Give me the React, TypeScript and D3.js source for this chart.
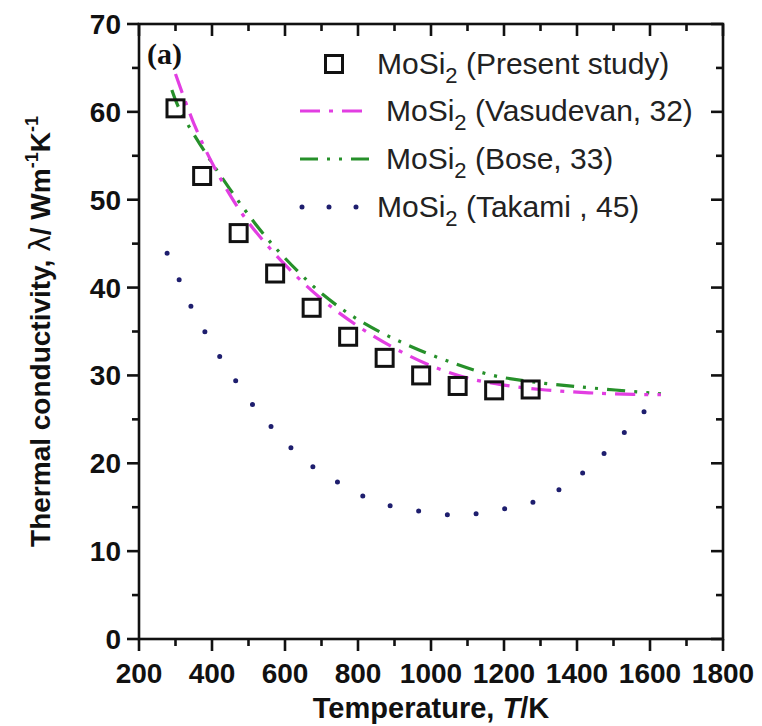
import React from "react";
import * as d3 from "d3";

// Thermal conductivity of MoSi2 versus temperature
const presentT = [300, 373, 473, 573, 673, 773, 873, 973, 1073, 1173, 1273];
const presentK = [60.4, 52.7, 46.2, 41.6, 37.7, 34.4, 32.0, 30.0, 28.8, 28.3, 28.4];

const vasudevanT = [300, 350, 400, 450, 500, 600, 700, 800, 900, 1000, 1100, 1200, 1300, 1400, 1500, 1630];
const vasudevanK = [64.3, 58.7, 54.2, 50.5, 47.4, 42.6, 38.7, 35.6, 33.1, 31.1, 29.7, 28.9, 28.4, 28.1, 27.9, 27.8];

const boseT = [290, 312, 400, 518, 592, 704, 814, 934, 1061, 1170, 1271, 1408, 1630];
const boseK = [62.5, 60.2, 54.2, 47.3, 43.7, 39.2, 36.0, 33.5, 31.4, 30.0, 29.3, 28.7, 27.9];

const takamiT = [277, 310, 342, 383, 422, 522, 586, 654, 727, 796, 869, 942, 1010, 1081, 1151, 1224, 1296, 1366, 1436, 1504, 1571, 1630];
const takamiK = [43.9, 40.9, 37.9, 34.8, 32.1, 26.1, 23.1, 20.3, 18.3, 16.6, 15.4, 14.7, 14.4, 14.0, 14.5, 15.0, 15.8, 17.4, 19.6, 22.4, 25.3, 28.0];

const xMajorTicks = [200, 400, 600, 800, 1000, 1200, 1400, 1600, 1800];
const yMajorTicks = [0, 10, 20, 30, 40, 50, 60, 70];

const legendLabels = ["(Present study)", "(Vasudevan, 32)", "(Bose, 33)", "(Takami , 45)"];

const W = 762;
const H = 726;
const left = 139;
const right = 723;
const top = 24;
const bottom = 639;

const MAGENTA = "#e23ee2";
const GREEN = "#26902a";
const NAVY = "#1e1e6e";
const FONT = "'Liberation Sans', Arial, sans-serif";

export default function App() {
  const x = d3.scaleLinear().domain([200, 1800]).range([left, right]);
  const y = d3.scaleLinear().domain([0, 70]).range([bottom, top]);

  const pts = (ts: number[], vs: number[]) => ts.map((t, i) => [t, vs[i]] as [number, number]);
  const line = d3
    .line<[number, number]>()
    .x((d) => x(d[0]))
    .y((d) => y(d[1]))
    .curve(d3.curveCatmullRom.alpha(0.5));

  const xMinor = d3.range(200, 1801, 100).filter((v) => !xMajorTicks.includes(v));
  const yMinor = d3.range(0, 71, 5).filter((v) => !yMajorTicks.includes(v));

  const MAJ = 12;
  const MIN = 7;
  const axisW = 2.6;

  const legendX = 300;
  const legendRows = [64, 111, 159, 207];
  const legendTextX = [377, 386, 386, 377];

  const moSi = (i: number) => (
    <text
      key={"lt" + i}
      x={legendTextX[i]}
      y={legendRows[i] + 10}
      fontFamily={FONT}
      fontSize={30}
      fill="#222"
    >
      MoSi
      <tspan fontSize={22} dy={9}>2</tspan>
      <tspan dy={-9}>{" " + legendLabels[i]}</tspan>
    </text>
  );

  return (
    <svg
      width={W}
      height={H}
      style={{ position: "absolute", left: 0, top: 0, background: "#fff" }}
    >
      <rect x={0} y={0} width={W} height={H} fill="#fff" />

      {/* data curves */}
      <path
        d={line(pts(takamiT, takamiK)) || ""}
        fill="none"
        stroke={NAVY}
        strokeWidth={5}
        strokeLinecap="round"
        strokeDasharray="0 29"
      />
      <path
        d={line(pts(boseT, boseK)) || ""}
        fill="none"
        stroke={GREEN}
        strokeWidth={3.2}
        strokeDasharray="18 9 3 9 3 9"
      />
      <path
        d={line(pts(vasudevanT, vasudevanK)) || ""}
        fill="none"
        stroke={MAGENTA}
        strokeWidth={3.2}
        strokeDasharray="20 9 4 9"
      />

      {/* measured points */}
      {presentT.map((t, i) => (
        <rect
          key={"sq" + i}
          x={x(t) - 8.5}
          y={y(presentK[i]) - 8.5}
          width={17}
          height={17}
          fill="none"
          stroke="#111"
          strokeWidth={3}
        />
      ))}

      {/* frame */}
      <rect
        x={left}
        y={top}
        width={right - left}
        height={bottom - top}
        fill="none"
        stroke="#111"
        strokeWidth={axisW}
      />

      {/* x ticks: outward at bottom, inward at top */}
      {xMajorTicks.map((v) => (
        <g key={"xM" + v}>
          <line x1={x(v)} x2={x(v)} y1={bottom} y2={bottom + MAJ} stroke="#111" strokeWidth={axisW} />
          <line x1={x(v)} x2={x(v)} y1={top} y2={top + MAJ} stroke="#111" strokeWidth={axisW} />
          <text
            x={x(v)}
            y={bottom + 44}
            textAnchor="middle"
            fontFamily={FONT}
            fontWeight="bold"
            fontSize={28}
            fill="#111"
          >
            {v}
          </text>
        </g>
      ))}
      {xMinor.map((v) => (
        <g key={"xm" + v}>
          <line x1={x(v)} x2={x(v)} y1={bottom} y2={bottom + MIN} stroke="#111" strokeWidth={axisW} />
          <line x1={x(v)} x2={x(v)} y1={top} y2={top + MIN} stroke="#111" strokeWidth={axisW} />
        </g>
      ))}

      {/* y ticks: outward at left, inward at right */}
      {yMajorTicks.map((v) => (
        <g key={"yM" + v}>
          <line x1={left - MAJ} x2={left} y1={y(v)} y2={y(v)} stroke="#111" strokeWidth={axisW} />
          <line x1={right - MAJ} x2={right} y1={y(v)} y2={y(v)} stroke="#111" strokeWidth={axisW} />
          <text
            x={left - 18}
            y={y(v) + 10}
            textAnchor="end"
            fontFamily={FONT}
            fontWeight="bold"
            fontSize={28}
            fill="#111"
          >
            {v}
          </text>
        </g>
      ))}
      {yMinor.map((v) => (
        <g key={"ym" + v}>
          <line x1={left - MIN} x2={left} y1={y(v)} y2={y(v)} stroke="#111" strokeWidth={axisW} />
          <line x1={right - MIN} x2={right} y1={y(v)} y2={y(v)} stroke="#111" strokeWidth={axisW} />
        </g>
      ))}

      {/* axis titles */}
      <text
        x={(left + right) / 2}
        y={718}
        textAnchor="middle"
        fontFamily={FONT}
        fontWeight="bold"
        fontSize={29}
        fill="#111"
      >
        Temperature,{" "}
        <tspan fontStyle="italic">T</tspan>/K
      </text>
      <text
        transform={`translate(50, ${(top + bottom) / 2}) rotate(-90)`}
        textAnchor="middle"
        fontFamily={FONT}
        fontWeight="bold"
        fontSize={28}
        fill="#111"
      >
        Thermal conductivity,{" "}
        <tspan fontWeight="normal" fontFamily="'DejaVu Sans', sans-serif">λ</tspan>/ Wm
        <tspan fontSize={18} dy={-12}>-1</tspan>
        <tspan dy={12}>K</tspan>
        <tspan fontSize={18} dy={-12}>-1</tspan>
      </text>

      {/* panel label */}
      <text
        x={147}
        y={64}
        fontFamily="'Liberation Serif', 'Times New Roman', serif"
        fontWeight="bold"
        fontSize={30}
        fill="#111"
      >
        (a)
      </text>

      {/* legend */}
      <rect
        x={legendX + 25.5}
        y={legendRows[0] - 8.5}
        width={17}
        height={17}
        fill="none"
        stroke="#111"
        strokeWidth={3}
      />
      <line
        x1={legendX}
        x2={legendX + 70}
        y1={legendRows[1]}
        y2={legendRows[1]}
        stroke={MAGENTA}
        strokeWidth={3.2}
        strokeDasharray="20 9 4 9"
      />
      <line
        x1={legendX}
        x2={legendX + 70}
        y1={legendRows[2]}
        y2={legendRows[2]}
        stroke={GREEN}
        strokeWidth={3.2}
        strokeDasharray="18 9 3 9 3 9"
      />
      <line
        x1={legendX + 2}
        x2={legendX + 60}
        y1={legendRows[3]}
        y2={legendRows[3]}
        stroke={NAVY}
        strokeWidth={5}
        strokeLinecap="round"
        strokeDasharray="0 27"
      />
      {[0, 1, 2, 3].map((i) => moSi(i))}
    </svg>
  );
}
